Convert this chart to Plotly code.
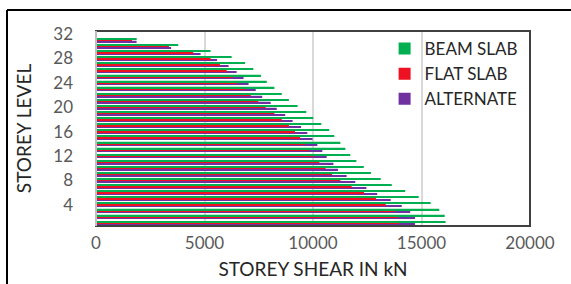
import plotly.graph_objects as go

levels = list(range(1, 33))
beam_slab = [16.11, 16.07, 15.82, 15.42, 14.87, 14.25, 13.63, 13.12, 12.67, 12.34,
             12.00, 11.72, 11.49, 11.26, 10.98, 10.75, 10.38, 10.01, 9.69, 9.29,
             8.89, 8.56, 8.22, 7.87, 7.60, 7.25, 6.87, 6.25, 5.28, 3.79, 1.875, 0]
flat_slab = [13.98, 13.92, 13.75, 13.35, 12.90, 12.35, 11.78, 11.26, 10.88, 10.58,
             10.29, 10.01, 9.82, 9.63, 9.40, 9.17, 8.89, 8.56, 8.22, 7.82,
             7.48, 7.13, 6.87, 6.52, 6.30, 6.02, 5.71, 5.28, 4.48, 3.36, 1.66, 0]
alternate = [14.70, 14.70, 14.48, 14.09, 13.58, 12.96, 12.46, 11.95, 11.55, 11.15,
             10.94, 10.63, 10.43, 10.20, 9.98, 9.74, 9.45, 9.06, 8.72, 8.33,
             8.05, 7.66, 7.36, 7.03, 6.80, 6.48, 6.11, 5.58, 4.82, 3.46, 1.87, 0]
beam_slab = [v * 1000 for v in beam_slab]
flat_slab = [v * 1000 for v in flat_slab]
alternate = [v * 1000 for v in alternate]

x_ticks = [0, 5000, 10000, 15000, 20000]
y_ticks = [4, 8, 12, 16, 20, 24, 28, 32]

FONT = "Lato"
fig = go.Figure()
# plotly stacks horizontal group members bottom-up, so add bottom series first
fig.add_trace(go.Bar(y=levels, x=alternate, orientation="h", name="ALTERNATE",
                     marker=dict(color="#7030A0", line_width=0),
                     legendgroup="c", legendrank=3))
fig.add_trace(go.Bar(y=levels, x=flat_slab, orientation="h", name="FLAT SLAB",
                     marker=dict(color="#EE1122", line_width=0),
                     legendgroup="b", legendrank=2))
fig.add_trace(go.Bar(y=levels, x=beam_slab, orientation="h", name="BEAM SLAB",
                     marker=dict(color="#00B050", line_width=0),
                     legendgroup="a", legendrank=1))

L, R, T, B = 96, 41, 31, 58
W, H = 571, 284
pw, ph = W - L - R, H - T - B

fig.update_layout(
    width=W, height=H,
    margin=dict(l=L, r=R, t=T, b=B, pad=0, autoexpand=False),
    paper_bgcolor="white", plot_bgcolor="white",
    barmode="group", bargap=0.33, bargroupgap=0,
    font=dict(family=FONT, color="#595959"),
    showlegend=True,
    legend=dict(x=0.665, y=1.0, xanchor="left", yanchor="top",
                traceorder="grouped", tracegroupgap=0,
                font=dict(size=17, color="#262626", family=FONT),
                bgcolor="rgba(0,0,0,0)", itemwidth=30),
    xaxis=dict(range=[0, 20000], tickvals=x_ticks, tickformat="d",
               showgrid=True, automargin=False,
               gridcolor="#D9D9D9", gridwidth=2, zeroline=False,
               tickfont=dict(size=17, color="#595959"), ticks="",
               ticklabelstandoff=5,
               title=dict(text="STOREY SHEAR IN kN", standoff=10,
                          font=dict(size=19, color="#262626", family=FONT))),
    yaxis=dict(range=[0.5, 32.5], tickvals=y_ticks, showgrid=False,
               automargin=False,
               zeroline=False, ticks="", ticklabelstandoff=22,
               tickfont=dict(size=17, color="#595959"),
               title=dict(text="STOREY LEVEL", standoff=16,
                          font=dict(size=19, color="#262626", family=FONT))),
)

# plot-area frame
fig.add_shape(type="rect", xref="paper", yref="paper", x0=0, x1=1, y0=0, y1=1,
              line=dict(color="#404040", width=2), layer="above")
fig.add_shape(type="line", xref="paper", yref="paper", x0=0, x1=0, y0=0, y1=1,
              line=dict(color="#BFBFBF", width=2), layer="above")
# outer black picture frame (left and top edges)
fx0 = (7 - L) / pw
fy1 = (H - B - 10) / ph
fig.add_shape(type="line", xref="paper", yref="paper", x0=fx0, x1=(W - L) / pw + 0.01,
              y0=fy1, y1=fy1, line=dict(color="black", width=2))
fig.add_shape(type="line", xref="paper", yref="paper", x0=fx0, x1=fx0,
              y0=fy1, y1=-(B + 2) / ph, line=dict(color="black", width=2))

fig.write_html("out.html", config={"displayModeBar": False},
               post_script="document.body.style.margin='0';")
